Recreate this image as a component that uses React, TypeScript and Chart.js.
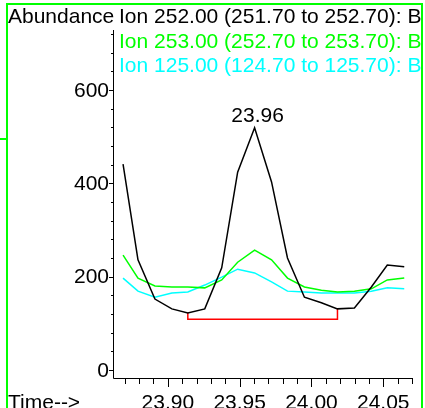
import React, { useEffect, useRef } from "react";
import { Chart, registerables } from "chart.js";

Chart.register(...registerables);

// Scan times (minutes)
const times = [
  23.8688, 23.8792, 23.891, 23.9028, 23.9139, 23.9257, 23.9375, 23.9486, 23.9604,
  23.9722, 23.9833, 23.9951, 24.0069, 24.0181, 24.0299, 24.0417, 24.0528, 24.0646,
];
// Ion 252.00 abundance
const ion252 = [441, 236, 152, 131, 122, 131, 219, 424, 519, 403, 240, 156, 144, 131, 133, 178, 225, 221];
// Ion 253.00 abundance
const ion253 = [246, 197, 180, 178, 178, 176, 193, 231, 257, 236, 197, 178, 171, 167, 169, 174, 193, 197];
// Ion 125.00 abundance
const ion125 = [197, 169, 156, 165, 167, 182, 199, 216, 208, 189, 169, 167, 165, 165, 165, 169, 176, 174];
// Integration baseline (red)
const baseTimes = [23.9139, 23.9139, 24.0181, 24.0181];
const baseValues = [122, 109, 109, 131];

const legendLabels = [
  "Ion 252.00 (251.70 to 252.70): B",
  "Ion 253.00 (252.70 to 253.70): B",
  "Ion 125.00 (124.70 to 125.70): B",
];
const seriesColors = ["#000000", "#00ff00", "#00ffff"];
const xTickLabels = ["23.90", "23.95", "24.00", "24.05"];
const yTickLabels = ["0", "200", "400", "600"];
const peakLabel = "23.96";
const peakTime = 23.9604;
const peakValue = 519;

const FONT = "21px 'Liberation Sans', Arial, sans-serif";

const toPoints = (xs: number[], ys: number[]) => xs.map((x, i) => ({ x, y: ys[i] }));

export default function App() {
  const ref = useRef<HTMLCanvasElement | null>(null);

  useEffect(() => {
    if (!ref.current) return;
    const decor = {
      id: "decor",
      afterDraw(chart: any) {
        const ctx = chart.ctx as CanvasRenderingContext2D;
        const xs = chart.scales.x;
        const ys = chart.scales.y;
        const area = chart.chartArea;
        ctx.save();
        // green frame
        ctx.strokeStyle = "#00ff00";
        ctx.lineWidth = 2;
        ctx.beginPath();
        ctx.moveTo(7, 500);
        ctx.lineTo(7, 4);
        ctx.lineTo(422, 4);
        ctx.lineTo(422, 500);
        ctx.stroke();
        ctx.beginPath();
        ctx.moveTo(0, 139);
        ctx.lineTo(7, 139);
        ctx.stroke();

        // axes
        ctx.strokeStyle = "#000";
        ctx.lineWidth = 1;
        ctx.beginPath();
        ctx.moveTo(area.left - 0.5, area.top);
        ctx.lineTo(area.left - 0.5, area.bottom + 0.5);
        ctx.lineTo(area.right, area.bottom + 0.5);
        ctx.stroke();

        // y ticks
        ctx.beginPath();
        for (let v = 0; v <= 720; v += 40) {
          const py = Math.round(ys.getPixelForValue(v)) + 0.5;
          const len = v % 200 === 0 ? 5 : 3;
          ctx.moveTo(area.left - len, py);
          ctx.lineTo(area.left, py);
        }
        ctx.stroke();
        // x ticks
        ctx.beginPath();
        for (let k = 2387; k <= 2407; k++) {
          const px = Math.round(xs.getPixelForValue(k / 100)) + 0.5;
          const len = k % 5 === 0 ? 9 : 6;
          ctx.moveTo(px, area.bottom);
          ctx.lineTo(px, area.bottom + len);
        }
        ctx.stroke();

        ctx.font = FONT;
        ctx.fillStyle = "#000";
        // y labels
        ctx.textAlign = "right";
        ctx.textBaseline = "middle";
        yTickLabels.forEach((l) => {
          ctx.fillText(l, area.left - 5, ys.getPixelForValue(parseFloat(l)) + 1);
        });
        // x labels
        ctx.textAlign = "center";
        ctx.textBaseline = "alphabetic";
        xTickLabels.forEach((l) => {
          ctx.fillText(l, xs.getPixelForValue(parseFloat(l)), 409);
        });
        ctx.textAlign = "left";
        ctx.fillText("Time-->", 8, 409);

        // peak label
        ctx.textAlign = "center";
        ctx.fillText(peakLabel, xs.getPixelForValue(peakTime) + 3, ys.getPixelForValue(peakValue) - 6);

        // header
        ctx.save();
        ctx.beginPath();
        ctx.rect(0, 0, 421, 408);
        ctx.clip();
        ctx.textAlign = "left";
        ctx.fillStyle = "#000";
        ctx.fillText("Abundance", 8, 23);
        legendLabels.forEach((l, i) => {
          ctx.fillStyle = seriesColors[i];
          ctx.fillText(l, 119, 23 + i * 24.7);
        });
        ctx.restore();
        ctx.restore();
      },
    };

    const chart = new Chart(ref.current, {
      type: "line",
      data: {
        datasets: [
          { data: toPoints(times, ion252), borderColor: seriesColors[0] },
          { data: toPoints(times, ion253), borderColor: seriesColors[1] },
          { data: toPoints(times, ion125), borderColor: seriesColors[2] },
          { data: toPoints(baseTimes, baseValues), borderColor: "#ff0000" },
        ],
      },
      options: {
        responsive: false,
        animation: false,
        devicePixelRatio: 1,
        layout: { padding: { left: 114, right: 13, top: 30, bottom: 30 } },
        elements: {
          point: { radius: 0 },
          line: { tension: 0, borderWidth: 1.5, fill: false },
        },
        scales: {
          x: { type: "linear", min: 23.8625, max: 24.07, display: false },
          y: { type: "linear", min: -17.14, max: 728.57, display: false },
        },
        plugins: { legend: { display: false }, tooltip: { enabled: false } },
      },
      plugins: [decor],
    });
    return () => chart.destroy();
  }, []);

  return (
    <div style={{ position: "absolute", left: 0, top: 0, width: 425, height: 408, background: "#fff" }}>
      <canvas ref={ref} width={425} height={408} style={{ display: "block" }} />
    </div>
  );
}
